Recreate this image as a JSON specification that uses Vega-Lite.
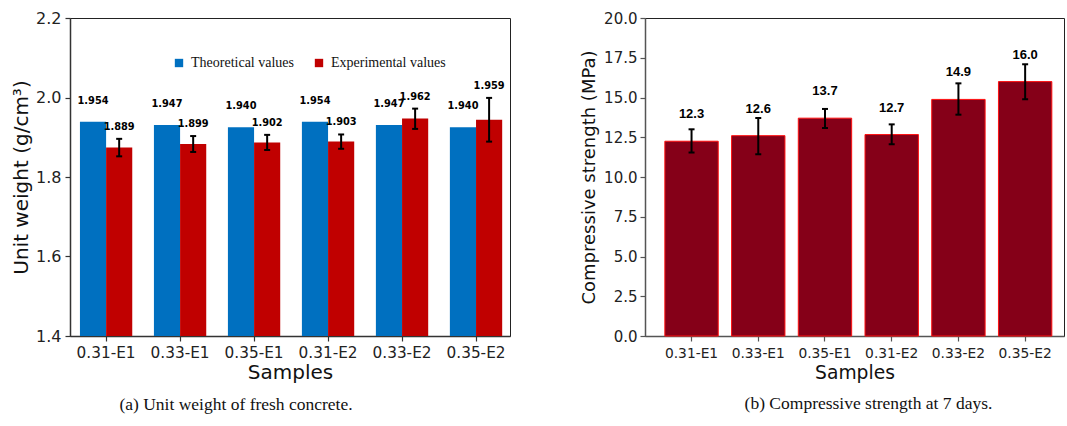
{
  "$schema": "https://vega.github.io/schema/vega-lite/v6.json",
  "padding": {"left": 11, "top": 9, "right": 0, "bottom": 0},
  "spacing": 69,
  "config": {
    "font": "DejaVu Sans",
    "view": {"stroke": "#222", "strokeWidth": 1},
    "axis": {"grid": false, "titleFontWeight": "normal", "titleColor": "#111", "labelColor": "#222", "domainColor": "#333", "tickColor": "#333", "domainWidth": 1.5, "tickWidth": 1.2, "tickSize": 5, "labelOverlap": false}
  },
  "hconcat": [
    {
      "width": 440,
      "height": 318,
      "data": {"values": [
        {"sample": "0.31-E1", "series": "Theoretical values", "value": 1.939, "label": "1.954"},
        {"sample": "0.31-E1", "series": "Experimental values", "value": 1.874, "label": "1.889", "lo": 1.852, "hi": 1.896},
        {"sample": "0.33-E1", "series": "Theoretical values", "value": 1.931, "label": "1.947"},
        {"sample": "0.33-E1", "series": "Experimental values", "value": 1.883, "label": "1.899", "lo": 1.863, "hi": 1.903},
        {"sample": "0.35-E1", "series": "Theoretical values", "value": 1.925, "label": "1.940"},
        {"sample": "0.35-E1", "series": "Experimental values", "value": 1.887, "label": "1.902", "lo": 1.868, "hi": 1.906},
        {"sample": "0.31-E2", "series": "Theoretical values", "value": 1.939, "label": "1.954"},
        {"sample": "0.31-E2", "series": "Experimental values", "value": 1.889, "label": "1.903", "lo": 1.871, "hi": 1.907},
        {"sample": "0.33-E2", "series": "Theoretical values", "value": 1.931, "label": "1.947"},
        {"sample": "0.33-E2", "series": "Experimental values", "value": 1.947, "label": "1.962", "lo": 1.921, "hi": 1.972},
        {"sample": "0.35-E2", "series": "Theoretical values", "value": 1.925, "label": "1.940"},
        {"sample": "0.35-E2", "series": "Experimental values", "value": 1.944, "label": "1.959", "lo": 1.889, "hi": 1.999}
      ]},
      "title": {"text": "(a) Unit weight of fresh concrete.", "orient": "bottom", "anchor": "middle", "font": "Liberation Serif", "fontSize": 17.5, "fontWeight": "normal", "color": "#111", "offset": 14, "dx": -54},
      "encoding": {
        "x": {"field": "sample", "type": "nominal", "sort": null,
          "scale": {"paddingInner": 0.293, "paddingOuter": 0.12, "align": 0.56},
          "axis": {"labelAngle": 0, "title": "Samples", "titleFontSize": 20, "labelFontSize": 15.3, "labelPadding": 4, "titlePadding": 2}},
        "xOffset": {"field": "series", "type": "nominal", "sort": ["Theoretical values", "Experimental values"],
          "scale": {"domain": ["Theoretical values", "Experimental values"], "paddingInner": 0, "paddingOuter": 0}}
      },
      "layer": [
        {
          "mark": {"type": "bar", "clip": true},
          "encoding": {
            "y": {"field": "value", "type": "quantitative",
              "scale": {"domain": [1.4, 2.2], "zero": false, "nice": false},
              "axis": {"values": [1.4, 1.6, 1.8, 2.0, 2.2], "tickCount": 10, "format": ".1f", "labelOverlap": false, "title": "Unit weight (g/cm³)", "titleFontSize": 20, "labelFontSize": 16, "labelPadding": 4, "titlePadding": 4}},
            "y2": {"datum": 1.4},
            "color": {"field": "series", "type": "nominal",
              "scale": {"domain": ["Theoretical values", "Experimental values"], "range": ["#0070C0", "#C00000"]},
              "legend": {"orient": "none", "legendX": 102, "legendY": 38, "direction": "horizontal", "title": null, "symbolType": "square", "symbolSize": 70, "symbolStrokeWidth": 0, "labelFont": "Liberation Serif", "labelFontSize": 14, "labelColor": "#111", "columnPadding": 17, "labelOffset": 5}}
          }
        },
        {
          "transform": [{"filter": "datum.series === 'Theoretical values'"}],
          "mark": {"type": "text", "dy": -21, "fontWeight": "bold", "fontSize": 9.8, "color": "#000", "baseline": "middle"},
          "encoding": {
            "y": {"field": "value", "type": "quantitative"},
            "text": {"field": "label", "type": "nominal"}
          }
        },
        {
          "transform": [{"filter": "datum.series === 'Experimental values'"}],
          "mark": {"type": "text", "dy": -12, "fontWeight": "bold", "fontSize": 9.8, "color": "#000", "baseline": "middle"},
          "encoding": {
            "y": {"field": "hi", "type": "quantitative"},
            "text": {"field": "label", "type": "nominal"}
          }
        },
        {
          "transform": [{"filter": "isValid(datum.lo)"}],
          "mark": {"type": "rule", "strokeWidth": 2, "color": "#000"},
          "encoding": {
            "y": {"field": "lo", "type": "quantitative"},
            "y2": {"field": "hi"}
          }
        },
        {
          "transform": [{"filter": "isValid(datum.lo)"}],
          "mark": {"type": "tick", "thickness": 2, "size": 6, "color": "#000", "opacity": 1},
          "encoding": {"y": {"field": "lo", "type": "quantitative"}}
        },
        {
          "transform": [{"filter": "isValid(datum.lo)"}],
          "mark": {"type": "tick", "thickness": 2, "size": 6, "color": "#000", "opacity": 1},
          "encoding": {"y": {"field": "hi", "type": "quantitative"}}
        }
      ]
    },
    {
      "width": 419,
      "height": 318,
      "data": {"values": [
        {"sample": "0.31-E1", "value": 12.25, "label": "12.3", "lo": 11.54, "hi": 13.0},
        {"sample": "0.33-E1", "value": 12.6, "label": "12.6", "lo": 11.43, "hi": 13.71},
        {"sample": "0.35-E1", "value": 13.7, "label": "13.7", "lo": 13.08, "hi": 14.28},
        {"sample": "0.31-E2", "value": 12.67, "label": "12.7", "lo": 12.06, "hi": 13.31},
        {"sample": "0.33-E2", "value": 14.88, "label": "14.9", "lo": 13.92, "hi": 15.89},
        {"sample": "0.35-E2", "value": 16.0, "label": "16.0", "lo": 14.89, "hi": 17.09}
      ]},
      "title": {"text": "(b) Compressive strength at 7 days.", "orient": "bottom", "anchor": "middle", "font": "Liberation Serif", "fontSize": 17.5, "fontWeight": "normal", "color": "#111", "offset": 13, "dx": 14},
      "encoding": {
        "x": {"field": "sample", "type": "nominal", "sort": null,
          "scale": {"paddingInner": 0.2, "paddingOuter": 0.24, "align": 0.62},
          "axis": {"labelAngle": 0, "title": "Samples", "titleFontSize": 18.7, "labelFontSize": 13.8, "labelPadding": 5.5, "titlePadding": 3, "domainColor": "#555", "tickColor": "#555"}}
      },
      "layer": [
        {
          "mark": {"type": "bar", "fill": "#850018", "stroke": "#ff1010", "strokeWidth": 1},
          "encoding": {
            "y": {"field": "value", "type": "quantitative",
              "scale": {"domain": [0, 20], "nice": false},
              "axis": {"values": [0, 2.5, 5, 7.5, 10, 12.5, 15, 17.5, 20], "tickCount": 20, "format": ".1f", "labelOverlap": false, "title": "Compressive strength (MPa)", "titleFontSize": 18, "labelFontSize": 15, "labelPadding": 3, "titlePadding": 5, "domainColor": "#555", "tickColor": "#555"}}
          }
        },
        {
          "mark": {"type": "text", "dy": -27, "fontWeight": "bold", "fontSize": 13, "font": "Liberation Sans", "color": "#000", "baseline": "middle"},
          "encoding": {
            "y": {"field": "value", "type": "quantitative"},
            "text": {"field": "label", "type": "nominal"}
          }
        },
        {
          "mark": {"type": "rule", "strokeWidth": 2, "color": "#000"},
          "encoding": {
            "y": {"field": "lo", "type": "quantitative"},
            "y2": {"field": "hi"}
          }
        },
        {
          "mark": {"type": "tick", "thickness": 2, "size": 6, "color": "#000", "opacity": 1},
          "encoding": {"y": {"field": "lo", "type": "quantitative"}}
        },
        {
          "mark": {"type": "tick", "thickness": 2, "size": 6, "color": "#000", "opacity": 1},
          "encoding": {"y": {"field": "hi", "type": "quantitative"}}
        }
      ]
    }
  ]
}
